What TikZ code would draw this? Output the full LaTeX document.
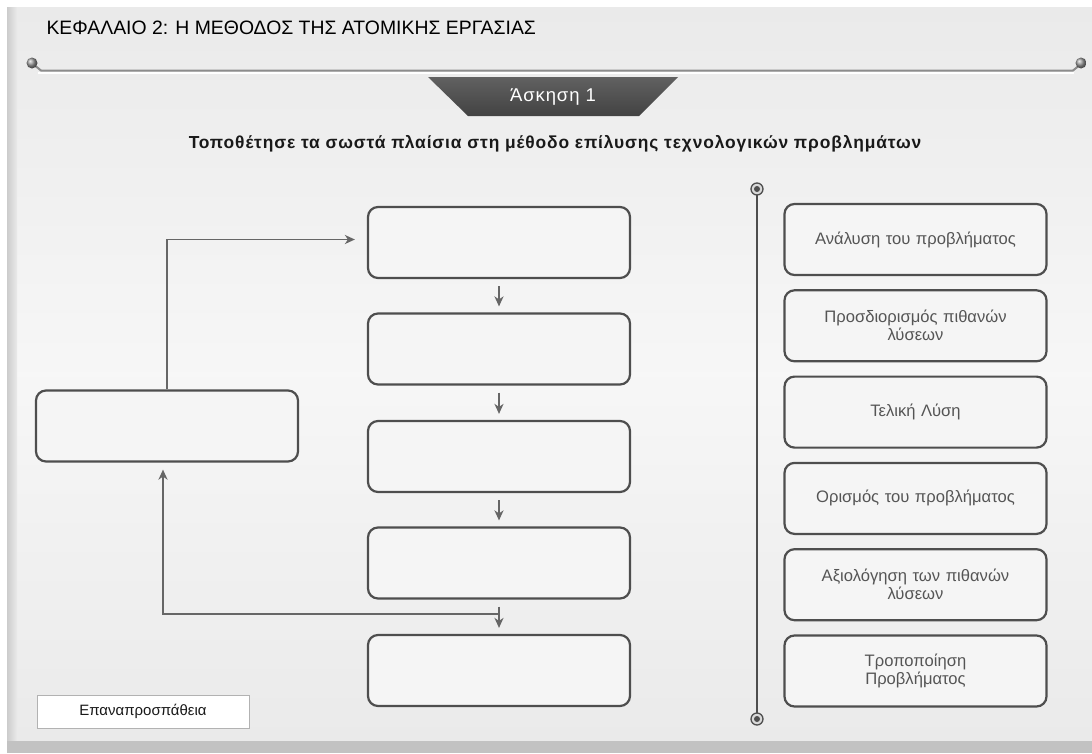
\documentclass[tikz,border=0pt]{standalone}
\usepackage{fontspec}
\setmainfont{Liberation Sans}
\newfontfamily\spaced[LetterSpace=5]{Liberation Sans}
\usetikzlibrary{arrows.meta,calc}
\definecolor{bord}{HTML}{4E4E4E}
\definecolor{arrc}{HTML}{666666}
\definecolor{boxfill}{HTML}{F5F5F5}
\definecolor{txt}{HTML}{555555}
\definecolor{panel}{HTML}{EAEAEA}
\begin{document}
\begin{tikzpicture}[x=1pt,y=-1pt,
  slot/.style={draw=bord, line width=2.2pt, rounded corners=10pt, fill=boxfill,
    minimum width=262pt, minimum height=71pt, inner sep=0pt},
  choice/.style={slot, text=txt, font=\fontsize{16.6}{18}\selectfont, align=center, text width=250pt},
  arr/.style={draw=arrc, line width=1.9pt, -{Stealth[length=10pt,width=9pt,inset=3pt]}},
  knob/.style={draw=bord, line width=1.3pt, fill=black!15}]
\useasboundingbox (0,0) rectangle (1092,753);
% background
\fill[white] (0,0) rectangle (1092,753);
\shade[top color=panel, bottom color=panel, middle color=white!60!panel] (7,7) rectangle (1092,741);
\shade[left color=black!20, right color=panel] (7,7) rectangle (17,741);
\fill[black!24] (7,741) rectangle (1092,753);
% title
\node[anchor=west, text=black, font=\fontsize{19.4}{23}\selectfont] (title) at (43,28) {ΚΕΦΑΛΑΙΟ 2: Η ΜΕΘΟΔΟΣ ΤΗΣ ΑΤΟΜΙΚΗΣ ΕΡΓΑΣΙΑΣ};
% rule with knobs
\draw[black!45, line width=2pt] (33,64) -- (41,70.5) -- (1073,70.5) -- (1081,64);
\draw[white, line width=1.2pt] (38,73) -- (1074,73);
\shade[ball color=black!40] (32,63) circle (5.5);
\shade[ball color=black!40] (1081,63) circle (5.5);
% tab
\shade[top color=black!62, bottom color=black!74] (428,77) -- (678,77) -- (639,116) -- (468,116) -- cycle;
\node[text=white, font=\spaced\fontsize{18.5}{22}\selectfont] (tab) at (553,97) {Άσκηση 1};
% instruction
\node[text=black!90, font=\spaced\bfseries\fontsize{17.4}{20}\selectfont] (instr) at (555,144) {Τοποθέτησε τα σωστά πλαίσια στη μέθοδο επίλυσης τεχνολογικών προβλημάτων};
% slots
\node[slot] (b1) at (499,242.5) {};
\node[slot] (b2) at (499,349) {};
\node[slot] (b3) at (499,456.5) {};
\node[slot] (b4) at (499,563) {};
\node[slot] (b5) at (499,670.5) {};
\node[slot] (L) at (167,426) {};
\foreach \a/\b in {b1/b2,b2/b3,b3/b4,b4/b5}
  \draw[arr, shorten <=7pt, shorten >=6pt] (\a.south) -- (\b.north);
\draw[arr, shorten >=12pt] (L.north) |- ([yshift=3pt]b1.west);
\coordinate (fb) at ($(b4.south)+(0,14)$);
\draw[arr, shorten >=7pt] (fb) -| ([xshift=-4pt]L.south);
% choices column
\coordinate (vt) at (757,189);
\coordinate (vb) at (757,719);
\draw[bord, line width=1.6pt] (vt) -- (vb);
\foreach \p in {vt,vb}{
  \draw[knob] (\p) circle (6);
  \fill[bord] (\p) circle (3);
}
\node[choice] (r1) at (915.5,239.5) {Ανάλυση του προβλήματος};
\node[choice] (r2) at (915.5,325.8) {Προσδιορισμός πιθανών\\λύσεων};
\node[choice] (r3) at (915.5,412.1) {Τελική Λύση};
\node[choice] (r4) at (915.5,498.4) {Ορισμός του προβλήματος};
\node[choice] (r5) at (915.5,584.7) {Αξιολόγηση των πιθανών\\λύσεων};
\node[choice] (r6) at (915.5,671) {Τροποποίηση\\Προβλήματος};
% retry button
\node[draw=black!30, line width=1pt, fill=white, minimum width=212pt, minimum height=33pt,
  text=black!90, font=\fontsize{15}{18}\selectfont] (retry) at (143,711.5) {Επαναπροσπάθεια};
\end{tikzpicture}
\end{document}
